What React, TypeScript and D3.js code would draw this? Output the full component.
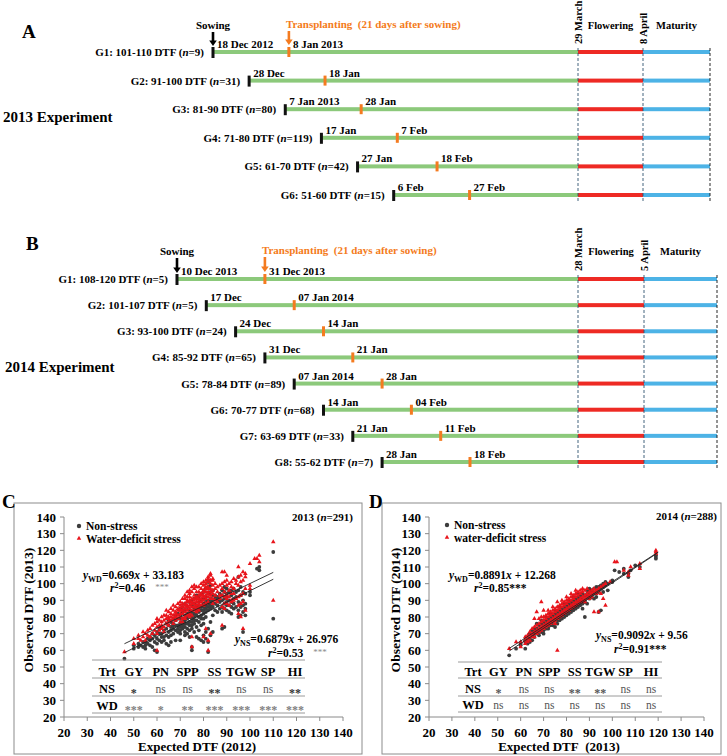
import React from "react";
import * as d3 from "d3";

const FONT = "'Liberation Serif', 'Times New Roman', serif";
const GREEN = "#8cc97b";
const RED = "#ee2a24";
const BLUE = "#4db3e6";
const ORANGE = "#f47b20";
const NS_COL = "#3c3c3c";
const WD_COL = "#e8141b";

// ---------- Panel A (2013 experiment) ----------
const groupsA = ["G1: 101-110 DTF", "G2: 91-100 DTF", "G3: 81-90 DTF", "G4: 71-80 DTF", "G5: 61-70 DTF", "G6: 51-60 DTF"];
const nA = [9, 31, 80, 119, 42, 15];
const sowDatesA = ["2012-12-18", "2012-12-28", "2013-01-07", "2013-01-17", "2013-01-27", "2013-02-06"];
const sowLabelsA = ["18 Dec 2012", "28 Dec", "7 Jan 2013", "17 Jan", "27 Jan", "6 Feb"];
const transDatesA = ["2013-01-08", "2013-01-18", "2013-01-28", "2013-02-07", "2013-02-18", "2013-02-27"];
const transLabelsA = ["8 Jan 2013", "18 Jan", "28 Jan", "7 Feb", "18 Feb", "27 Feb"];
const flowerDatesA = ["2013-03-29", "2013-04-08"];
const flowerLabelsA = ["29 March", "8 April"];

// ---------- Panel B (2014 experiment) ----------
const groupsB = ["G1: 108-120 DTF", "G2: 101-107 DTF", "G3: 93-100 DTF", "G4: 85-92 DTF", "G5: 78-84 DTF", "G6: 70-77 DTF", "G7: 63-69 DTF", "G8: 55-62 DTF"];
const nB = [5, 5, 24, 65, 89, 68, 33, 7];
const sowDatesB = ["2013-12-10", "2013-12-17", "2013-12-24", "2013-12-31", "2014-01-07", "2014-01-14", "2014-01-21", "2014-01-28"];
const sowLabelsB = ["10 Dec 2013", "17 Dec", "24 Dec", "31 Dec", "07 Jan 2014", "14 Jan", "21 Jan", "28 Jan"];
const transDatesB = ["2013-12-31", "2014-01-07", "2014-01-14", "2014-01-21", "2014-01-28", "2014-02-04", "2014-02-11", "2014-02-18"];
const transLabelsB = ["31 Dec 2013", "07 Jan 2014", "14 Jan", "21 Jan", "28 Jan", "04 Feb", "11 Feb", "18 Feb"];
const flowerDatesB = ["2014-03-28", "2014-04-05"];
const flowerLabelsB = ["28 March", "5 April"];

// ---------- Panel C scatter: [expected DTF 2012, observed DTF 2013 values] ----------
const nsC: [number, number[]][] = [
  [46, [55]], [50, [63, 61]], [52, [64, 62]], [53, [63]], [54, [62, 65]], [55, [65, 63, 61]], [56, [64, 67]],
  [57, [63, 68, 66]], [58, [67, 62, 70]], [59, [60, 65, 69]], [60, [59, 67, 71, 64]], [61, [66, 70, 73]],
  [62, [70, 65, 68, 74]], [63, [68, 72, 66]], [64, [73, 69, 76, 64]], [65, [71, 75, 68, 78, 63]],
  [66, [74, 69, 77, 72, 65]], [67, [70, 76, 73, 79, 75]], [68, [72, 78, 75, 81, 66]], [69, [75, 71, 79, 73, 82]],
  [70, [76, 72, 79, 81, 74, 70, 85, 66]], [71, [73, 79, 77, 83, 75, 86]], [72, [78, 74, 81, 76, 84, 71, 88, 69]],
  [73, [76, 82, 79, 73, 86, 80, 70]], [74, [80, 77, 84, 75, 82, 89, 72, 68]],
  [75, [79, 83, 77, 87, 81, 75, 90, 62, 60, 73]], [76, [82, 78, 85, 80, 88, 76, 91, 71]],
  [77, [78, 84, 81, 87, 83, 93, 74, 68]], [78, [85, 80, 83, 89, 77, 86, 92, 72, 67]],
  [79, [81, 86, 79, 90, 84, 94, 75, 66]], [80, [86, 82, 88, 84, 91, 79, 95, 76, 65, 69]],
  [81, [83, 89, 85, 92, 87, 97, 80, 67, 71]], [82, [88, 84, 90, 86, 94, 98, 101, 65, 59, 73]],
  [83, [85, 91, 87, 95, 89, 99, 77, 69]], [84, [90, 86, 93, 88, 81, 71, 96]], [85, [88, 91, 84, 93]],
  [86, [92, 87, 83, 90]], [87, [89, 85, 94, 91]], [88, [86, 90, 93, 96, 73, 83]], [89, [88, 91, 95, 98, 74, 85]],
  [90, [84, 89, 94, 97, 87, 92]], [91, [87, 83, 95, 90]], [92, [86, 89, 93, 96, 82]], [93, [88, 85, 97, 91]],
  [94, [92, 95, 86]], [95, [89, 96, 104, 80, 84]], [96, [93, 86, 98, 81]], [97, [90, 95, 71, 83, 87]],
  [98, [94, 81, 85, 88]], [100, [95, 93]], [103, [109]], [104, [108, 110]], [110, [119, 79]],
];
const wdC: [number, number[]][] = [
  [46, [59]], [50, [67, 64]], [52, [67, 69]], [53, [66]], [54, [68, 71]], [55, [70, 66]], [56, [72, 69]],
  [57, [73, 68]], [58, [75, 70]], [59, [72, 76]], [60, [74, 77, 70, 79, 60]], [61, [72, 78, 75]],
  [62, [77, 73, 80, 75]], [63, [78, 74, 81, 71]], [64, [76, 81, 79, 84]], [65, [80, 77, 83, 75, 79]],
  [66, [82, 78, 85, 80]], [67, [79, 84, 81, 87, 76]], [68, [83, 80, 86, 78, 82]], [69, [81, 85, 88, 79, 84]],
  [70, [84, 80, 87, 82, 89, 77, 85]], [71, [86, 82, 88, 79, 91, 84, 77]], [72, [83, 88, 85, 91, 80, 87, 93, 79]],
  [73, [87, 84, 90, 86, 92, 81, 95, 89]], [74, [85, 89, 92, 87, 94, 82, 96, 90, 80]],
  [75, [88, 84, 91, 86, 95, 89, 98, 62, 68, 81]], [76, [90, 86, 93, 88, 97, 84, 91, 99]],
  [77, [87, 92, 89, 95, 85, 98, 91, 83]], [78, [91, 88, 95, 90, 98, 86, 93, 84]],
  [79, [89, 94, 91, 97, 87, 100, 93]], [80, [93, 90, 96, 92, 99, 87, 101, 95, 68]],
  [81, [91, 95, 98, 93, 100, 88, 97, 102, 73]], [82, [95, 92, 98, 94, 101, 89, 103, 97, 104, 60, 66]],
  [83, [97, 93, 100, 95, 102, 91, 106, 105, 70]], [84, [94, 99, 96, 102, 91, 103, 88]], [85, [97, 93, 100, 90]],
  [86, [95, 98, 89]], [87, [93, 99, 91]], [88, [97, 100, 86, 107, 75, 93]], [89, [95, 101, 88, 107, 85, 92]],
  [90, [99, 93, 88, 102, 91, 105]], [91, [96, 87, 100, 92]], [92, [98, 89, 101, 94, 90]], [93, [97, 90, 103, 94]],
  [94, [100, 91, 102]], [95, [110, 99, 92, 104, 82, 87]], [96, [101, 93, 105, 88, 80]], [97, [107, 102, 94, 73, 89]],
  [98, [104, 97, 106, 84]], [100, [112, 99, 97]], [102, [115]], [103, [115]], [104, [117, 113]], [110, [125, 90]],
];

// ---------- Panel D scatter: [expected DTF 2013, observed DTF 2014 values] ----------
const nsD: [number, number[]][] = [
  [55, [57]], [58, [61]], [60, [63, 64]], [62, [61, 65, 66]], [63, [64, 67]], [64, [67, 65, 70]], [65, [69, 66, 72]],
  [66, [68, 71, 73, 70]], [67, [70, 73, 72, 76]], [68, [72, 69, 75, 71]], [69, [73, 71, 76, 78]],
  [70, [73, 75, 77, 70, 72]], [71, [75, 73, 78, 80, 76]], [72, [76, 74, 79, 73, 78]], [73, [76, 78, 80, 82, 75]],
  [74, [77, 79, 81, 75, 78]], [75, [78, 80, 82, 84, 74, 79]], [76, [80, 78, 83, 76, 81]], [77, [80, 82, 84, 86, 78, 81]],
  [78, [81, 83, 85, 79, 82]], [79, [82, 84, 86, 88, 80, 83]], [80, [83, 85, 87, 81, 84]], [81, [84, 86, 88, 90, 82, 85]],
  [82, [85, 87, 89, 83, 86]], [83, [86, 88, 90, 92, 84]], [84, [87, 89, 91, 85]], [85, [88, 90, 92, 94, 86]],
  [86, [89, 91, 93, 87]], [87, [90, 92, 94, 88, 85]], [88, [90, 93, 80, 89]], [89, [92, 94, 96, 88]],
  [90, [93, 95, 97, 91]], [91, [93, 96, 92]], [92, [94, 97, 91]], [93, [95, 98, 92]], [94, [96, 83, 95, 98]],
  [95, [97, 99, 84]], [96, [98, 100, 95]], [97, [99, 101]], [98, [100, 96]], [100, [102, 101]], [101, [108]],
  [103, [107]], [105, [109, 106]], [107, [106, 104]], [108, [108]], [110, [111]], [112, [110]], [119, [116, 117, 115]],
];
const wdD: [number, number[]][] = [
  [55, [61]], [58, [65]], [60, [62, 65]], [62, [64, 66, 68]], [63, [65, 67, 69]], [64, [66, 69, 71]], [65, [68, 70, 73]],
  [66, [68, 71, 74, 79]], [67, [70, 72, 75, 83]], [68, [71, 73, 76, 79]], [69, [72, 74, 77, 89, 80]],
  [70, [73, 75, 78, 80, 84]], [71, [74, 76, 79, 81]], [72, [75, 77, 80, 82, 84]], [73, [76, 78, 81, 83]],
  [74, [77, 79, 82, 84, 86]], [75, [78, 80, 83, 85, 76]], [76, [79, 81, 84, 86, 89, 60]], [77, [80, 82, 85, 87]],
  [78, [81, 83, 86, 88, 90]], [79, [82, 84, 87, 89]], [80, [83, 85, 88, 90, 92]], [81, [84, 86, 89, 91]],
  [82, [85, 87, 90, 92, 94]], [83, [86, 88, 91, 93]], [84, [87, 89, 92, 94, 96]], [85, [88, 90, 93, 95]],
  [86, [89, 91, 94, 96]], [87, [90, 92, 95, 97]], [88, [91, 93, 89, 96]], [89, [92, 94, 97]], [90, [93, 95, 91]],
  [91, [94, 96, 92]], [92, [95, 97, 83]], [93, [96, 94]], [94, [97, 95, 83]], [95, [98, 94]], [96, [99, 91]],
  [97, [100, 87]], [99, [101]], [101, [113]], [102, [113]], [105, [108]], [107, [105, 107]], [108, [110]],
  [112, [109, 112]], [119, [120, 119, 118]],
];

// regression fits [slope, intercept, r2]
const fitNSC = [0.6879, 26.976, 0.53];
const fitWDC = [0.669, 33.183, 0.46];
const fitNSD = [0.9092, 9.56, 0.91];
const fitWDD = [0.8891, 12.268, 0.85];
const fitRangeC = [46, 110];
const fitRangeD = [55, 120];

const axisTicks = [20, 30, 40, 50, 60, 70, 80, 90, 100, 110, 120, 130, 140];

// significance tables
const tableCols = ["Trt", "GY", "PN", "SPP", "SS", "TGW", "SP", "HI"];
const sigNSC = ["*", "ns", "ns", "**", "ns", "ns", "**"];
const sigWDC = ["***", "*", "**", "***", "***", "***", "***"];
const sigNSD = ["*", "ns", "ns", "**", "**", "ns", "ns"];
const sigWDD = ["ns", "ns", "ns", "ns", "ns", "ns", "ns"];

const parse = d3.timeParse("%Y-%m-%d");

function Arrow({ x, y0, y1, color }: any) {
  return (
    <g>
      <line x1={x} x2={x} y1={y0} y2={y1 - 5} stroke={color} strokeWidth={2.6} />
      <path d={`M${x - 3.8},${y1 - 5.5}L${x + 3.8},${y1 - 5.5}L${x},${y1}Z`} fill={color} />
    </g>
  );
}

function Timeline(p: any) {
  const sowD = p.sow.map((s: string) => parse(s) as Date);
  const transD = p.trans.map((s: string) => parse(s) as Date);
  const flD = p.flower.map((s: string) => parse(s) as Date);
  const domain = p.breakAtTransplant
    ? [sowD[0], transD[transD.length - 1], flD[0], flD[1]]
    : [sowD[0], flD[0], flD[1]];
  const x = d3.scaleTime().domain(domain).range(p.xRange);
  const y = d3.scalePoint<string>().domain(p.groups).range(p.yRange);
  const f0 = x(flD[0]);
  const f1 = x(flD[1]);
  const r0 = p.yRange[0];
  const r1 = p.yRange[1];
  const sx0 = x(sowD[0]);
  const tx0 = x(transD[0]);
  return (
    <g>
      <text x={p.letterPos[0]} y={p.letterPos[1]} fontSize={19} fontWeight="bold">{p.letter}</text>
      <text x={p.titlePos[0]} y={p.titlePos[1]} fontSize={15} fontWeight="bold">{p.title}</text>
      <text x={sx0} y={p.headY} textAnchor="middle" fontSize={11} fontWeight="bold">Sowing</text>
      <Arrow x={sx0} y0={p.headY + 3} y1={r0 - 6} color="#000" />
      <text x={tx0 - 3} y={p.headY - 1} fontSize={11} fontWeight="bold" fill={ORANGE}>
        {"Transplanting\u00a0 (21 days after sowing)"}
      </text>
      <Arrow x={tx0} y0={p.headY + 2} y1={r0 - 7} color={ORANGE} />
      <text x={(f0 + f1) / 2} y={p.headY} textAnchor="middle" fontSize={10.5} fontWeight="bold">Flowering</text>
      <text x={(f1 + p.endX) / 2} y={p.headY} textAnchor="middle" fontSize={10.5} fontWeight="bold">Maturity</text>
      {[f0, f1].map((fx, i) => (
        <text key={i} transform={`translate(${fx + 4},${r0 - 8}) rotate(-90)`} fontSize={10.5} fontWeight="bold">
          {p.flowerLabels[i]}
        </text>
      ))}
      {p.groups.map((g: string, i: number) => {
        const yy = y(g) as number;
        const sx = x(sowD[i]);
        const tx = x(transD[i]);
        return (
          <g key={g}>
            <rect x={sx} y={yy - 2} width={f0 - sx} height={4} fill={GREEN} />
            <rect x={f0} y={yy - 2} width={f1 - f0} height={4} fill={RED} />
            <rect x={f1} y={yy - 2} width={p.endX - f1} height={4} fill={BLUE} />
            <rect x={sx - 1.5} y={yy - 5} width={3} height={11} fill="#111" />
            <rect x={tx - 1.5} y={yy - 5} width={3} height={10} fill={ORANGE} />
            <text x={sx - 9} y={yy + 4} textAnchor="end" fontSize={11} fontWeight="bold">
              {g} (<tspan fontStyle="italic">n</tspan>={p.ns[i]})
            </text>
            <text x={sx + 4} y={yy - 4} fontSize={11} fontWeight="bold">{p.sowLabels[i]}</text>
            <text x={tx + 4} y={yy - 4} fontSize={11} fontWeight="bold">{p.transLabels[i]}</text>
          </g>
        );
      })}
      {[f0, f1].map((fx, i) => (
        <line key={i} x1={fx} x2={fx} y1={r0 - 4} y2={r1 + 6} stroke="#2f5470" strokeWidth={0.9} strokeDasharray="3,2" />
      ))}
      <line x1={p.endX} x2={p.endX} y1={r0 - 4} y2={r1 + 6} stroke="#111" strokeWidth={0.9} strokeDasharray="3,2" />
    </g>
  );
}

function flatten(d: [number, number[]][]) {
  const out: [number, number][] = [];
  d.forEach(([xv, ys]) => ys.forEach((yv) => out.push([xv, yv])));
  return out;
}

function Eq({ x, y, sub, fit }: any) {
  return (
    <text x={x} y={y} fontSize={11.5} fontWeight="bold">
      <tspan fontStyle="italic">y</tspan>
      <tspan fontSize={8} dy={3}>{sub}</tspan>
      <tspan dy={-3}>={fit[0]}</tspan>
      <tspan fontStyle="italic">x</tspan>
      <tspan>{" + " + fit[1]}</tspan>
    </text>
  );
}

function R2({ x, y, fit, stars, starsGray }: any) {
  return (
    <text x={x} y={y} fontSize={11.5} fontWeight="bold">
      <tspan fontStyle="italic">r</tspan>
      <tspan fontSize={8} dy={-4}>2</tspan>
      <tspan dy={4}>={fit[2].toFixed(2)}</tspan>
      {starsGray ? (
        <tspan dx={10} fontSize={9} fontWeight="normal" fill="#8a8a8a" dy={-2}>{stars}</tspan>
      ) : (
        <tspan>{stars}</tspan>
      )}
    </text>
  );
}

function Scatter(p: any) {
  const x = d3.scaleLinear().domain([20, 140]).range(p.xRange);
  const y = d3.scaleLinear().domain([20, 140]).range([717, 517]);
  const tri = d3.symbol().type(d3.symbolTriangle).size(9)() as string;
  const ns = flatten(p.ns);
  const wd = flatten(p.wd);
  const fitLine = (fit: number[]) =>
    d3.line<number>().x((v) => x(v)).y((v) => y(fit[0] * v + fit[1]))(p.fitRange) as string;
  const cols = d3.scalePoint<string>().domain(tableCols).range(p.colRange);
  const ax = x(20);
  const ay = y(20);
  const rows = [
    { lab: "NS", sig: p.sigNS, col: p.nsStarCol },
    { lab: "WD", sig: p.sigWD, col: p.wdStarCol },
  ];
  return (
    <g>
      <rect x={p.box[0]} y={p.box[1]} width={p.box[2] - p.box[0]} height={p.box[3] - p.box[1]} fill="none" stroke="#8c8c8c" strokeWidth={1} />
      <text x={p.letterPos[0]} y={p.letterPos[1]} fontSize={19} fontWeight="bold">{p.letter}</text>
      <line x1={ax} x2={x(140)} y1={ay} y2={ay} stroke="#8a8a8a" />
      <line x1={ax} x2={ax} y1={ay} y2={y(140)} stroke="#8a8a8a" />
      {axisTicks.map((t) => (
        <g key={t}>
          <line x1={x(t)} x2={x(t)} y1={ay} y2={ay + 4} stroke="#8a8a8a" />
          <text x={x(t)} y={737} textAnchor="middle" fontSize={13} fontWeight="bold">{t}</text>
          <line x1={ax - 4} x2={ax} y1={y(t)} y2={y(t)} stroke="#8a8a8a" />
          <text x={ax - 8} y={y(t) + 4.5} textAnchor="end" fontSize={13} fontWeight="bold">{t}</text>
        </g>
      ))}
      <text x={p.xTitleX} y={751} textAnchor="middle" fontSize={13} fontWeight="bold">{p.xTitle}</text>
      <text transform={`translate(${p.yTitleX},610) rotate(-90)`} textAnchor="middle" fontSize={13.5} fontWeight="bold">{p.yTitle}</text>
      {ns.map((d, i) => (
        <circle key={"n" + i} cx={x(d[0])} cy={y(d[1])} r={1.9} fill={NS_COL} />
      ))}
      {wd.map((d, i) => (
        <path key={"w" + i} d={tri} transform={`translate(${x(d[0])},${y(d[1])})`} fill={WD_COL} />
      ))}
      <path d={fitLine(p.fitNS)} stroke="#222" strokeWidth={0.9} fill="none" />
      <path d={fitLine(p.fitWD)} stroke="#222" strokeWidth={0.9} fill="none" />
      <circle cx={p.legend[0]} cy={p.legend[1]} r={2.2} fill={NS_COL} />
      <text x={p.legend[0] + 7} y={p.legend[1] + 4} fontSize={11.5} fontWeight="bold">Non-stress</text>
      <path d={tri} transform={`translate(${p.legend[0]},${p.legend[1] + 12.5})`} fill={WD_COL} />
      <text x={p.legend[0] + 7} y={p.legend[1] + 16.5} fontSize={11.5} fontWeight="bold">{p.wdLabel}</text>
      <text x={p.yearPos[0]} y={p.yearPos[1]} textAnchor="end" fontSize={11} fontWeight="bold">
        {p.year} (<tspan fontStyle="italic">n</tspan>={p.n})
      </text>
      <Eq x={p.eqWD[0]} y={p.eqWD[1]} sub="WD" fit={p.fitWD} />
      <R2 x={p.r2WD[0]} y={p.r2WD[1]} fit={p.fitWD} stars="***" starsGray={p.grayStars} />
      <Eq x={p.eqNS[0]} y={p.eqNS[1]} sub="NS" fit={p.fitNS} />
      <R2 x={p.r2NS[0]} y={p.r2NS[1]} fit={p.fitNS} stars="***" starsGray={p.grayStars} />
      {p.tableLines.map((ly: number, i: number) => (
        <line key={i} x1={p.tableX[0]} x2={p.tableX[1]} y1={ly} y2={ly} stroke="#9a9a9a" strokeWidth={1} />
      ))}
      {tableCols.map((c) => (
        <text key={c} x={cols(c)} y={p.rowBase[0]} textAnchor="middle" fontSize={12.5} fontWeight="bold">{c}</text>
      ))}
      {rows.map((row, r) => (
        <g key={row.lab}>
          <text x={cols("Trt")} y={p.rowBase[r + 1]} textAnchor="middle" fontSize={12.5} fontWeight="bold">{row.lab}</text>
          {row.sig.map((s: string, j: number) => {
            const cx = cols(tableCols[j + 1]);
            return s === "ns" ? (
              <text key={j} x={cx} y={p.rowBase[r + 1]} textAnchor="middle" fontSize={11.5} fill="#555555">ns</text>
            ) : (
              <text key={j} x={cx} y={p.rowBase[r + 1] + 3.5} textAnchor="middle" fontSize={12} fontWeight="bold" fill={row.col}>{s}</text>
            );
          })}
        </g>
      ))}
    </g>
  );
}

export default function App() {
  return (
    <svg width={727} height={756} fontFamily={FONT} style={{ position: "absolute", left: 0, top: 0, background: "#fff" }}>
      <rect width={727} height={756} fill="#fff" />
      <Timeline
        letter="A" letterPos={[22, 38]} title="2013 Experiment" titlePos={[3, 122]}
        groups={groupsA} ns={nA} sow={sowDatesA} sowLabels={sowLabelsA} trans={transDatesA} transLabels={transLabelsA}
        flower={flowerDatesA} flowerLabels={flowerLabelsA}
        breakAtTransplant={false} xRange={[213, 578, 643]} endX={710} yRange={[52, 195]} headY={29}
      />
      <Timeline
        letter="B" letterPos={[26, 250]} title="2014 Experiment" titlePos={[5, 372]}
        groups={groupsB} ns={nB} sow={sowDatesB} sowLabels={sowLabelsB} trans={transDatesB} transLabels={transLabelsB}
        flower={flowerDatesB} flowerLabels={flowerLabelsB}
        breakAtTransplant={true} xRange={[177, 470, 578, 644]} endX={717} yRange={[279, 462]} headY={255}
      />
      <Scatter
        letter="C" letterPos={[2, 508]} box={[14, 503, 362, 754]} xRange={[64, 343]}
        ns={nsC} wd={wdC} fitNS={fitNSC} fitWD={fitWDC} fitRange={fitRangeC}
        xTitle="Expected DTF (2012)" xTitleX={197} yTitle="Observed DTF (2013)" yTitleX={33}
        legend={[79, 526]} wdLabel="Water-deficit stress" year="2013" n={291} yearPos={[353, 521]}
        eqWD={[83, 579]} r2WD={[110, 592]} eqNS={[235, 643]} r2NS={[268, 657]} grayStars={true}
        colRange={[107, 295]} tableX={[92, 305]} tableLines={[660, 678, 696, 713]} rowBase={[676, 693, 710]}
        sigNS={sigNSC} sigWD={sigWDC} nsStarCol="#333333" wdStarCol="#808080"
      />
      <Scatter
        letter="D" letterPos={[369, 508]} box={[382, 503, 721, 754]} xRange={[429, 704]}
        ns={nsD} wd={wdD} fitNS={fitNSD} fitWD={fitWDD} fitRange={fitRangeD}
        xTitle={"Expected DTF\u00a0 (2013)"} xTitleX={559} yTitle="Observed DTF (2014)" yTitleX={400}
        legend={[447, 525]} wdLabel="water-deficit stress" year="2014" n={288} yearPos={[717, 520]}
        eqWD={[449, 579]} r2WD={[474, 592]} eqNS={[596, 639]} r2NS={[614, 653]} grayStars={false}
        colRange={[473, 651]} tableX={[458, 662]} tableLines={[662, 678, 696, 712]} rowBase={[676, 693, 709]}
        sigNS={sigNSD} sigWD={sigWDD} nsStarCol="#555555" wdStarCol="#555555"
      />
    </svg>
  );
}
